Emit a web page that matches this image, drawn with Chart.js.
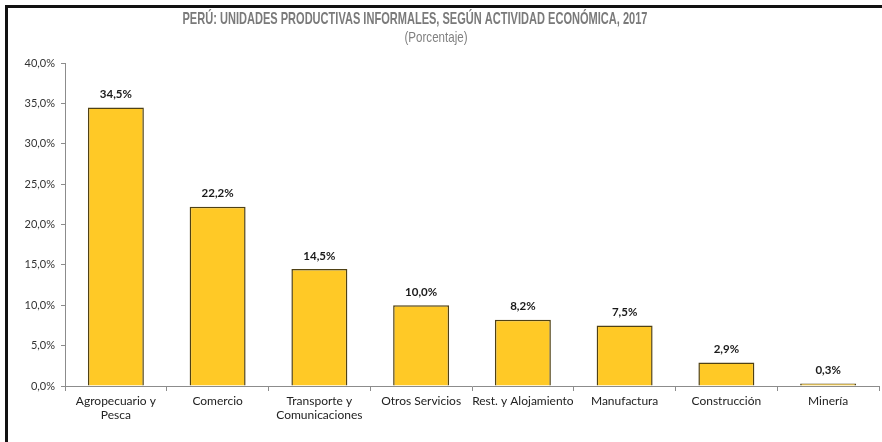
<!DOCTYPE html>
<html>
<head>
<meta charset="utf-8">
<script src="https://cdn.jsdelivr.net/npm/chart.js@4"></script>
<style>
  html, body { margin: 0; padding: 0; background: #fff; overflow: hidden; }
  #wrap { position: relative; width: 882px; height: 442px; overflow: hidden; }
  #frame { position: absolute; left: 5px; top: 5px; width: 900px; height: 460px; border-left: 3px solid #111; border-top: 3px solid #111; pointer-events: none; }
  canvas { position: absolute; left: 0; top: 0; }
</style>
</head>
<body>
<div id="wrap">
  <canvas id="myChart" width="882" height="442"></canvas>
  <div id="frame"></div>
</div>
<script>
// datos del grafico
var categorias = [["Agropecuario y", "Pesca"], "Comercio", ["Transporte y", "Comunicaciones"], "Otros Servicios", "Rest. y Alojamiento", "Manufactura", "Construcción", "Minería"];
var porcentajes = [34.5, 22.2, 14.5, 10.0, 8.2, 7.5, 2.9, 0.3];
var titulo = "PERÚ: UNIDADES PRODUCTIVAS INFORMALES, SEGÚN ACTIVIDAD ECONÓMICA, 2017";
var subtitulo = "(Porcentaje)";

function fmt(v) {
    return v.toFixed(1).replace('.', ',') + '%';
}

// texto comprimido a lo ancho (la fuente original es condensada)
function narrowText(ctx, txt, cx, cy, width) {
    var w = ctx.measureText(txt).width;
    var s = width / w;
    ctx.save();
    ctx.translate(cx, cy);
    ctx.scale(s, 1);
    ctx.fillText(txt, 0, 0);
    ctx.restore();
}

// titulo y etiquetas de valores
var textPlugin = {
    id: 'textPlugin',
    afterDatasetsDraw: function (chart) {
        var ctx = chart.ctx;
        ctx.save();
        ctx.textAlign = 'center';
        ctx.textBaseline = 'middle';

        ctx.fillStyle = '#7a7a7a';
        ctx.font = "bold 17px 'Liberation Sans', sans-serif";
        narrowText(ctx, titulo, 415, 19, 465);
        ctx.fillStyle = '#808080';
        ctx.font = "15px 'Liberation Sans', sans-serif";
        narrowText(ctx, subtitulo, 436, 38, 63);

        ctx.fillStyle = '#1a1a1a';
        ctx.font = "bold 11.5px Lato, 'Open Sans', sans-serif";
        chart.getDatasetMeta(0).data.forEach(function (bar, i) {
            ctx.fillText(fmt(porcentajes[i]), bar.x, bar.y - 13);
        });
        ctx.restore();
    }
};

var ctx = document.getElementById("myChart");

var InformalChart = new Chart(ctx, {
    type: 'bar',
    data: {
        labels: categorias,
        datasets: [{
            label: "Unidades productivas informales",
            backgroundColor: "#FFC926",
            borderColor: "#4f4114",
            borderWidth: 1.5,
            barPercentage: 0.55,
            categoryPercentage: 1,
            data: porcentajes,
        }],
    },
    options: {
        responsive: false,
        animation: false,
        layout: { padding: { top: 63, right: 3, left: 0, bottom: 0 } },
        plugins: {
            legend: { display: false },
            tooltip: { enabled: false }
        },
        scales: {
            x: {
                offset: true,
                grid: { display: true, drawOnChartArea: false, offset: true, tickLength: 5, color: '#8c8c8c' },
                border: { color: '#8c8c8c', width: 1 },
                ticks: {
                    color: '#222',
                    font: { family: "Lato, 'Open Sans', sans-serif", size: 12 },
                    padding: 3,
                    maxRotation: 0,
                    autoSkip: false
                },
                afterFit: function (scale) { scale.height = 56; }
            },
            y: {
                min: 0,
                max: 40,
                ticks: {
                    stepSize: 5,
                    color: '#333',
                    font: { family: "Lato, 'Open Sans', sans-serif", size: 11 },
                    padding: 6,
                    callback: function (v) { return fmt(v); }
                },
                grid: { display: true, drawOnChartArea: false, tickLength: 4, color: '#8c8c8c' },
                border: { color: '#8c8c8c', width: 1 },
                afterFit: function (scale) { scale.width = 65; }
            }
        }
    },
    plugins: [textPlugin]
});
</script>
</body>
</html>
